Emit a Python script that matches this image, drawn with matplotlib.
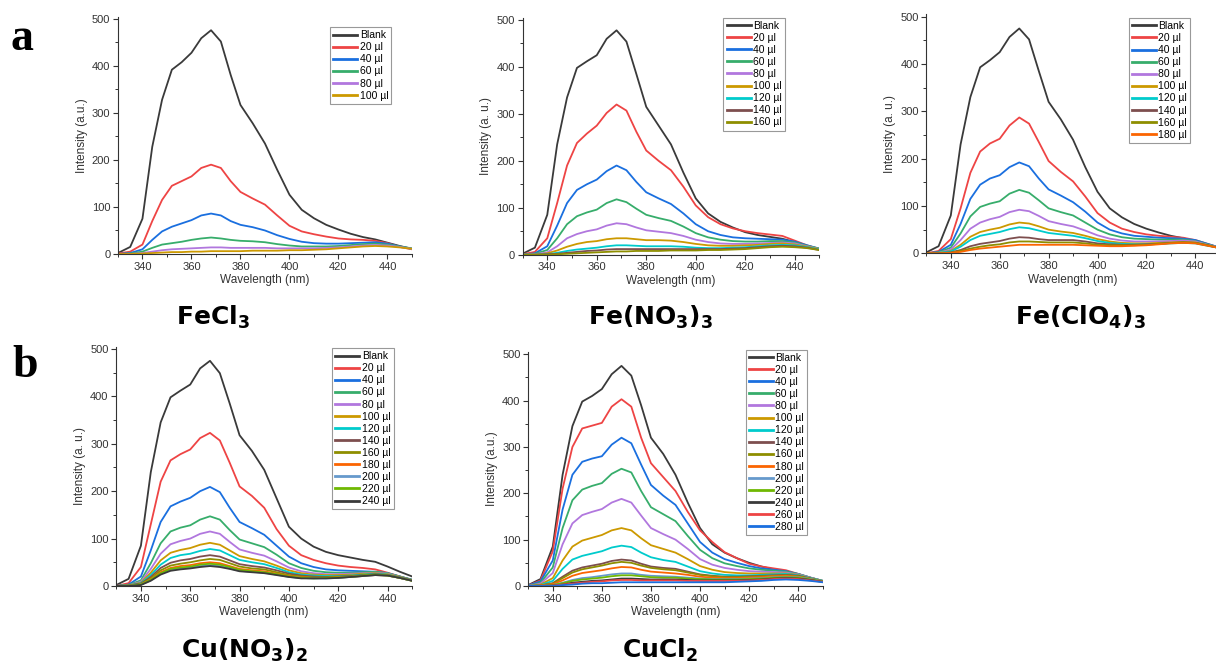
import matplotlib
matplotlib.use('Agg')
import matplotlib.pyplot as plt
from matplotlib.ticker import MultipleLocator

plt.rcParams['font.family'] = ['Liberation Sans', 'DejaVu Sans']
plt.rcParams['mathtext.fontset'] = 'dejavusans'

# wavelengths (nm) where the curves were read
wl = [330, 335, 340, 344, 348, 352, 356, 360, 364, 368, 372, 376, 380, 385,
      390, 395, 400, 405, 410, 415, 420, 425, 430, 435, 440, 445, 450]

doses = [20, 40, 60, 80, 100, 120, 140, 160, 180, 200, 220, 240, 260, 280]

######## FeCl3 ########
fecl3 = [
    [2, 15, 75, 228, 328, 392, 408, 428, 459, 476, 452, 381, 317, 278, 235, 179, 126, 94, 76, 62, 52, 43, 36, 31, 24, 17, 11],
    [1, 5, 20, 70, 115, 145, 155, 165, 183, 190, 183, 155, 132, 118, 105, 82, 60, 48, 42, 37, 33, 31, 30, 28, 23, 15, 10],
    [0, 2, 10, 30, 48, 58, 65, 72, 82, 86, 82, 70, 62, 57, 50, 40, 32, 26, 23, 22, 22, 23, 24, 25, 22, 16, 11],
    [0, 1, 5, 13, 20, 23, 26, 30, 33, 35, 33, 30, 28, 27, 25, 21, 18, 16, 16, 16, 17, 19, 21, 22, 20, 16, 12],
    [0, 0, 2, 5, 8, 10, 11, 12, 13, 14, 14, 13, 13, 13, 13, 12, 12, 12, 12, 13, 14, 16, 18, 19, 18, 15, 11],
    [0, 0, 1, 2, 3, 4, 4, 5, 5, 6, 6, 6, 6, 7, 7, 7, 8, 8, 9, 10, 12, 14, 16, 17, 16, 14, 11],
]

######## Fe(NO3)3 ########
fe_no3 = [
    [2, 15, 85, 235, 335, 398, 412, 425, 460, 478, 454, 385, 315, 275, 235, 175, 120, 88, 70, 58, 48, 42, 38, 34, 27, 18, 11],
    [1, 6, 35, 110, 190, 238, 258, 275, 302, 320, 307, 262, 222, 200, 180, 145, 105, 80, 65, 56, 50, 46, 43, 40, 30, 20, 12],
    [0, 3, 18, 62, 110, 138, 150, 160, 178, 190, 180, 155, 133, 120, 108, 88, 65, 50, 42, 37, 35, 34, 33, 32, 28, 20, 13],
    [0, 2, 10, 35, 65, 82, 90, 96, 110, 118, 112, 98, 85, 78, 72, 60, 46, 37, 32, 29, 28, 28, 29, 29, 26, 19, 13],
    [0, 1, 5, 18, 35, 44, 50, 54, 62, 67, 65, 58, 52, 49, 46, 40, 32, 27, 24, 23, 23, 24, 25, 26, 24, 18, 12],
    [0, 0, 3, 9, 17, 23, 27, 29, 33, 35, 35, 33, 31, 31, 30, 27, 23, 20, 19, 19, 20, 21, 23, 24, 22, 17, 12],
    [0, 0, 1, 4, 8, 11, 13, 15, 18, 20, 20, 19, 18, 18, 18, 17, 15, 14, 14, 15, 16, 18, 20, 21, 20, 16, 11],
    [0, 0, 1, 2, 4, 6, 8, 9, 11, 12, 12, 12, 12, 12, 12, 12, 12, 12, 12, 13, 14, 16, 18, 19, 18, 15, 10],
    [0, 0, 0, 1, 2, 3, 4, 5, 6, 7, 7, 8, 8, 8, 9, 9, 9, 10, 10, 11, 12, 14, 16, 17, 16, 14, 10],
]

######## Fe(ClO4)3 ########
fe_clo4 = [
    [2, 15, 80, 230, 330, 393, 408, 425, 457, 475, 452, 385, 320, 283, 240, 182, 130, 95, 76, 62, 52, 44, 37, 32, 25, 18, 11],
    [0, 5, 30, 95, 170, 215, 232, 242, 270, 287, 274, 235, 195, 172, 152, 120, 85, 65, 52, 45, 40, 37, 35, 33, 28, 20, 12],
    [0, 3, 18, 62, 115, 145, 158, 165, 182, 192, 184, 158, 135, 122, 108, 88, 65, 50, 42, 37, 35, 33, 32, 31, 28, 20, 12],
    [0, 2, 12, 42, 78, 98, 105, 110, 126, 134, 128, 112, 95, 87, 80, 65, 50, 40, 34, 31, 30, 29, 29, 29, 26, 19, 12],
    [0, 1, 8, 28, 52, 65, 72, 77, 87, 92, 89, 79, 68, 62, 57, 48, 38, 31, 27, 25, 25, 25, 26, 27, 25, 18, 12],
    [0, 1, 5, 18, 35, 45, 50, 54, 61, 65, 63, 57, 50, 46, 43, 37, 30, 25, 22, 21, 21, 22, 23, 24, 23, 17, 11],
    [0, 1, 4, 14, 28, 37, 41, 45, 51, 55, 53, 48, 43, 40, 37, 32, 26, 22, 20, 19, 19, 20, 21, 22, 21, 16, 11],
    [0, 0, 2, 7, 15, 20, 23, 26, 31, 34, 33, 30, 28, 28, 28, 25, 21, 19, 18, 18, 19, 20, 22, 23, 22, 17, 11],
    [0, 0, 1, 5, 10, 14, 17, 19, 23, 25, 25, 24, 23, 23, 23, 21, 18, 17, 17, 17, 18, 20, 22, 23, 22, 17, 11],
    [0, 0, 1, 3, 7, 10, 12, 14, 16, 18, 18, 18, 18, 18, 18, 17, 16, 15, 15, 16, 17, 19, 21, 22, 21, 16, 11],
]

######## Cu(NO3)2 ########
cu_no3 = [
    [2, 15, 85, 240, 345, 398, 412, 425, 459, 475, 449, 385, 318, 285, 245, 185, 125, 100, 83, 72, 65, 60, 55, 51, 41, 30, 20],
    [0, 6, 40, 130, 220, 265, 278, 288, 312, 323, 307, 260, 210, 190, 165, 120, 85, 65, 55, 48, 43, 40, 38, 35, 28, 20, 13],
    [0, 3, 20, 75, 135, 168, 178, 186, 200, 209, 198, 165, 135, 122, 108, 85, 62, 48, 40, 35, 33, 32, 31, 30, 27, 20, 13],
    [0, 2, 12, 48, 90, 115, 123, 128, 140, 147, 140, 118, 98, 90, 82, 66, 48, 38, 32, 29, 28, 28, 29, 30, 27, 20, 13],
    [0, 1, 9, 36, 68, 88, 95, 100, 110, 115, 110, 93, 77, 70, 64, 52, 39, 31, 27, 25, 25, 26, 27, 28, 26, 19, 12],
    [0, 1, 7, 28, 54, 70, 76, 80, 87, 91, 87, 75, 63, 57, 52, 43, 33, 27, 24, 23, 23, 24, 26, 27, 25, 19, 12],
    [0, 1, 6, 23, 45, 59, 65, 68, 74, 78, 75, 65, 55, 50, 46, 38, 29, 24, 22, 21, 21, 22, 24, 26, 24, 18, 12],
    [0, 1, 5, 19, 38, 49, 54, 57, 62, 65, 62, 54, 46, 42, 39, 33, 26, 22, 20, 19, 20, 21, 23, 25, 23, 18, 12],
    [0, 1, 4, 16, 33, 43, 47, 50, 54, 57, 55, 48, 41, 37, 35, 29, 23, 20, 18, 18, 19, 20, 22, 24, 23, 17, 11],
    [0, 0, 3, 14, 29, 38, 42, 44, 48, 50, 48, 42, 36, 33, 31, 26, 21, 18, 17, 17, 18, 19, 21, 23, 22, 17, 11],
    [0, 0, 3, 12, 26, 34, 37, 39, 42, 44, 42, 37, 32, 30, 28, 24, 19, 17, 16, 16, 17, 19, 21, 23, 22, 17, 11],
    [0, 0, 3, 13, 27, 36, 39, 41, 45, 47, 45, 40, 34, 31, 29, 25, 20, 17, 16, 17, 18, 19, 22, 24, 22, 17, 11],
    [0, 0, 2, 11, 24, 32, 35, 37, 40, 42, 40, 36, 31, 29, 27, 23, 19, 16, 16, 16, 17, 19, 21, 23, 22, 17, 11],
]

######## CuCl2 ########
cucl2 = [
    [2, 15, 85, 240, 345, 398, 410, 425, 457, 475, 454, 390, 320, 285, 240, 180, 125, 90, 72, 60, 50, 42, 36, 31, 25, 17, 10],
    [1, 12, 75, 210, 300, 340, 346, 352, 387, 403, 387, 320, 265, 235, 205, 160, 120, 95, 73, 60, 48, 42, 38, 34, 26, 18, 11],
    [1, 10, 55, 165, 240, 268, 275, 280, 305, 320, 308, 262, 218, 195, 175, 135, 95, 72, 58, 50, 43, 38, 35, 32, 26, 18, 11],
    [0, 7, 40, 125, 185, 208, 216, 222, 242, 253, 245, 205, 170, 155, 140, 108, 78, 60, 49, 43, 38, 35, 33, 31, 26, 18, 11],
    [0, 5, 28, 90, 135, 153, 160, 166, 180, 188, 180, 152, 125, 112, 100, 80, 58, 46, 39, 35, 32, 31, 30, 29, 25, 18, 11],
    [0, 3, 17, 55, 85, 98, 104, 110, 120, 125, 120, 103, 88, 80, 72, 58, 43, 35, 30, 28, 27, 27, 27, 27, 24, 17, 11],
    [0, 2, 11, 37, 57, 65, 70, 75, 83, 87, 84, 72, 62, 56, 52, 42, 32, 27, 24, 23, 23, 24, 25, 26, 23, 17, 11],
    [0, 1, 6, 20, 33, 40, 44, 48, 54, 57, 55, 48, 42, 39, 37, 31, 25, 22, 20, 20, 21, 22, 23, 24, 22, 16, 10],
    [0, 1, 5, 17, 29, 36, 40, 44, 49, 52, 50, 44, 39, 36, 34, 29, 24, 21, 19, 19, 20, 21, 22, 23, 21, 16, 10],
    [0, 1, 4, 12, 22, 28, 31, 34, 38, 41, 40, 35, 31, 29, 27, 24, 20, 18, 17, 17, 18, 19, 21, 22, 20, 15, 10],
    [0, 0, 2, 7, 13, 17, 19, 22, 25, 27, 27, 24, 22, 21, 20, 18, 16, 15, 15, 15, 16, 17, 19, 20, 19, 15, 10],
    [0, 0, 2, 6, 11, 14, 16, 18, 21, 23, 23, 21, 19, 18, 18, 16, 15, 14, 14, 14, 15, 16, 18, 19, 18, 14, 10],
    [0, 0, 1, 3, 7, 9, 11, 12, 14, 16, 16, 15, 14, 14, 14, 13, 12, 12, 12, 12, 13, 14, 16, 17, 16, 13, 9],
    [0, 0, 1, 3, 5, 7, 9, 10, 12, 13, 13, 12, 12, 12, 12, 11, 11, 11, 11, 11, 12, 13, 15, 16, 15, 12, 9],
    [0, 0, 0, 2, 3, 5, 6, 6, 7, 8, 8, 8, 8, 8, 8, 8, 8, 8, 8, 9, 10, 11, 13, 14, 13, 11, 8],
]

# Origin-like colour cycle
colors = ['#3a3a3a', '#ee4444', '#1a6fdf', '#37ad6b', '#b177de', '#cc9900',
          '#00cbcc', '#7d4e4e', '#8e8e00', '#fb6501', '#6699cc', '#6fb802']

# data, axes rect, ylabel, title, title position, legend anchor
panels = [
    (fecl3, [0.097, 0.6175, 0.2418, 0.3575], 'Intensity (a.u.)',
     r'$\mathbf{FeCl_3}$', (0.175, 0.5105), (0.93, 0.956)),
    (fe_no3, [0.4297, 0.6164, 0.2442, 0.357], 'Intensity (a. u.)',
     r'$\mathbf{Fe(NO_3)_3}$', (0.535, 0.5105), (0.884, 1.0)),
    (fe_clo4, [0.7618, 0.6185, 0.2413, 0.36], 'Intensity (a. u.)',
     r'$\mathbf{Fe(ClO_4)_3}$', (0.889, 0.5105), (0.899, 0.985)),
    (cu_no3, [0.0956, 0.1175, 0.2434, 0.3605], 'Intensity (a. u.)',
     r'$\mathbf{Cu(NO_3)_2}$', (0.2015, 0.009), (0.938, 0.994)),
    (cucl2, [0.4344, 0.1175, 0.2422, 0.3524], 'Intensity (a.u.)',
     r'$\mathbf{CuCl_2}$', (0.543, 0.009), (0.947, 1.01)),
]

fig = plt.figure(figsize=(12.16, 6.64), dpi=100)

for data, rect, ylab, title, txy, anchor in panels:
    ax = fig.add_axes(rect)
    labels = ['Blank'] + ['%d \u00b5l' % d for d in doses[:len(data) - 1]]
    for i, y in enumerate(data):
        ax.plot(wl, y, color=colors[i % len(colors)], lw=1.3, label=labels[i])
    ax.set_xlim(330, 450)
    ax.set_ylim(0, 505)
    ax.xaxis.set_major_locator(MultipleLocator(20))
    ax.xaxis.set_minor_locator(MultipleLocator(10))
    ax.yaxis.set_major_locator(MultipleLocator(100))
    ax.yaxis.set_minor_locator(MultipleLocator(50))
    for s in ['top', 'right']:
        ax.spines[s].set_visible(False)
    for s in ['left', 'bottom']:
        ax.spines[s].set_color('#333333')
        ax.spines[s].set_linewidth(0.8)
    ax.tick_params(which='major', direction='out', length=3.5, width=0.8,
                   labelsize=8, colors='#333333', pad=2)
    ax.tick_params(which='minor', direction='out', length=2, width=0.7,
                   colors='#333333')
    ax.set_xlabel('Wavelength (nm)', fontsize=8.5, color='#333333', labelpad=2)
    ax.set_ylabel(ylab, fontsize=8.5, color='#333333', labelpad=3)
    leg = ax.legend(loc='upper right', bbox_to_anchor=anchor, fontsize=7.5,
                    handlelength=2.3, handletextpad=0.25, borderpad=0.3,
                    labelspacing=0.2, borderaxespad=0, fancybox=False,
                    framealpha=1)
    leg.get_frame().set_edgecolor('#999999')
    leg.get_frame().set_linewidth(0.8)
    for line in leg.get_lines():
        line.set_linewidth(2)
    fig.text(txy[0], txy[1], title, ha='center', va='baseline', fontsize=18)

fig.text(11 / 1216, 1 - 50 / 664, 'a', ha='left', va='baseline',
         family='Liberation Serif', fontweight='bold', fontsize=33)
fig.text(12 / 1216, 1 - 377 / 664, 'b', ha='left', va='baseline',
         family='Liberation Serif', fontweight='bold', fontsize=33)

fig.savefig('out.png', dpi=100)
